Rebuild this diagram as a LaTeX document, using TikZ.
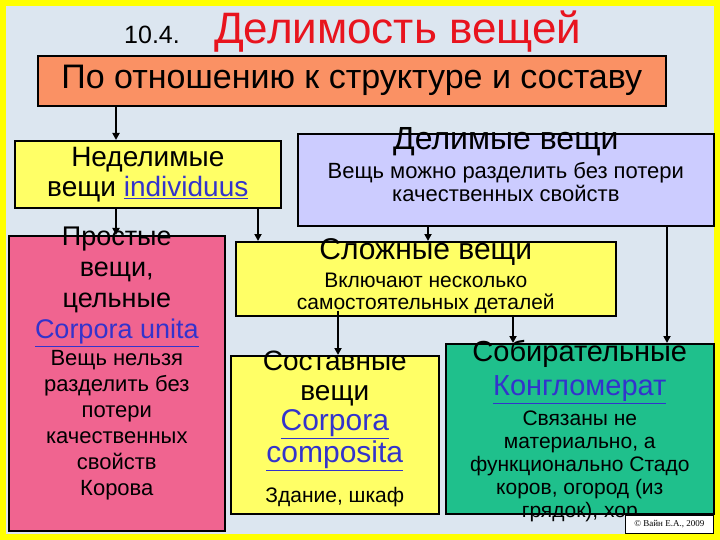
\documentclass[tikz,border=0pt]{standalone}
\usepackage{fontspec}
\setmainfont{Liberation Sans}
\usetikzlibrary{arrows.meta}
\definecolor{bgblue}{HTML}{DCE6F0}
\definecolor{frameyel}{HTML}{FFFF00}
\definecolor{orangebox}{HTML}{FA9164}
\definecolor{yelbox}{HTML}{FFFF66}
\definecolor{lavbox}{HTML}{CCCCFF}
\definecolor{pinkbox}{HTML}{F06490}
\definecolor{tealbox}{HTML}{1FC08C}
\definecolor{linkblue}{HTML}{3333CC}
\definecolor{titlered}{HTML}{E8141E}
\newcommand{\lnk}[1]{\textcolor{linkblue}{\underline{#1}}}
\newcommand{\fs}[2]{\fontsize{#1}{#2}\selectfont}
\tikzset{
  box/.style={draw=black, line width=1.6pt, inner sep=0pt},
  arr/.style={-{Triangle[length=7pt,width=7pt]}, line width=2pt},
  txt/.style={align=center, inner sep=0pt}
}
\begin{document}
\begin{tikzpicture}[x=1pt,y=-1pt]
\useasboundingbox (0,0) rectangle (720,540);
\fill[frameyel] (0,0) rectangle (720,540);
\fill[bgblue] (6,6) rectangle (714,534);
% title
\node[txt, anchor=base west] (t1) at (124,44) {\fs{25}{28}10.4.};
\node[txt, anchor=base west, text=titlered] (t2) at (214,44) {\fs{44}{48}Делимость вещей};
% boxes
\node[box, fill=orangebox, minimum width=628pt, minimum height=50pt, anchor=north west] (top) at (37,55) {};
\node[txt] at (top.center) {\fs{34}{38}По отношению к структуре и составу};
\node[box, fill=yelbox, minimum width=266pt, minimum height=67pt, anchor=north west] (ned) at (14,140) {};
\node[txt, font=\fs{28}{30}] at (ned.center) {Неделимые\\вещи \lnk{individuus}};
\node[box, fill=lavbox, minimum width=416pt, minimum height=92pt, anchor=north west] (del) at (297,133) {};
\node[txt, anchor=north, font=\fs{22}{23}] at ([yshift=6pt]del.north) {\fs{32}{34}Делимые вещи\\[6pt]Вещь можно разделить без потери\\качественных свойств};
\node[box, fill=pinkbox, minimum width=216pt, minimum height=295pt, anchor=north west] (pro) at (8,235) {};
\node[txt, anchor=north, font=\fs{22}{26}] at ([yshift=8pt]pro.north) {\fs{27}{31}Простые\\[5pt]\fs{27}{31}вещи,\\[5pt]\fs{27}{31}цельные\\[5pt]\fs{27}{31}\lnk{Corpora unita}\\[1pt]Вещь нельзя\\разделить без\\потери\\качественных\\свойств\\Корова};
\node[box, fill=yelbox, minimum width=380pt, minimum height=74pt, anchor=north west] (slo) at (235,241) {};
\node[txt, anchor=north, font=\fs{21}{22}] at ([yshift=3pt]slo.north) {\fs{30}{32}Сложные вещи\\[6pt]Включают несколько\\самостоятельных деталей};
\node[box, fill=yelbox, minimum width=208pt, minimum height=158pt, anchor=north west] (sos) at (230,355) {};
\node[txt, anchor=north, font=\fs{28}{30}] at ([yshift=4pt]sos.north) {Составные\\вещи\\\fs{30}{32}\lnk{Corpora}\\[2pt]\fs{30}{32}\lnk{composita}\\[10pt]\fs{21}{24}Здание, шкаф};
\node[box, fill=tealbox, minimum width=268pt, minimum height=170pt, anchor=north west] (sob) at (445,343) {};
\node[txt, anchor=north, font=\fs{21}{23}] at ([yshift=3pt]sob.north) {\fs{29}{31}Собирательные\\[7pt]\fs{29}{31}\lnk{Конгломерат}\\[7pt]Связаны не\\материально, а\\функционально Стадо\\коров, огород (из\\грядок), хор};
\node[draw=black, line width=0.6pt, fill=white, minimum width=88pt, minimum height=18pt, inner sep=0pt, anchor=north west] (cp) at (625,515) {\fontspec{Liberation Serif}\fs{9}{10}© Вайн Е.А., 2009};
% connectors
\draw[arr] (top.south -| 116,0) -- (ned.north -| 116,0);
\draw[arr] (ned.south -| 116,0) -- (pro.north -| 116,0);
\draw[arr] (ned.south -| 258,0) -- (slo.north -| 258,0);
\draw[arr] (del.south -| 428,0) -- (slo.north -| 428,0);
\draw[arr] (del.south -| 667,0) -- (sob.north -| 667,0);
\draw[arr] ([yshift=6pt]slo.south -| 338,0) -- (sos.north -| 338,0);
\draw[arr] (slo.south -| 513,0) -- (sob.north -| 513,0);
\end{tikzpicture}
\end{document}
